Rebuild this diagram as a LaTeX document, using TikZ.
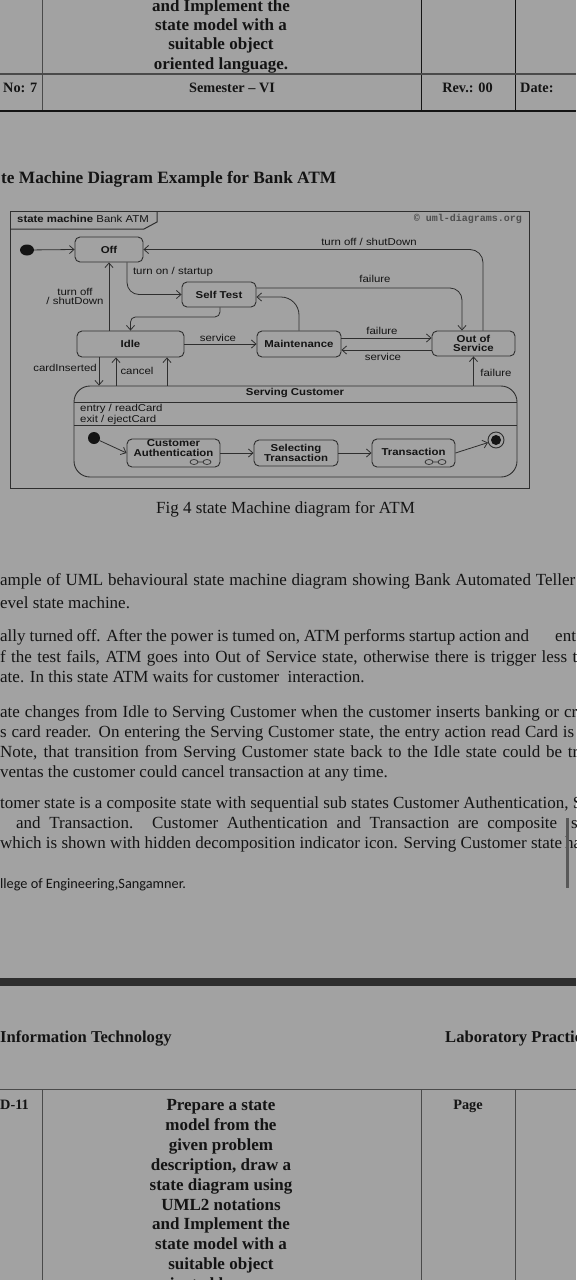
\documentclass[tikz,border=0pt]{standalone}
\usepackage{fontspec}
\setmainfont{Liberation Serif}
\newfontfamily\dgf[FakeStretch=1.14]{Liberation Sans}
\newfontfamily\calf{Carlito}
\newfontfamily\monof{Liberation Mono}
\usetikzlibrary{arrows.meta,calc,shapes.geometric}
\definecolor{bg}{HTML}{A2A2A2}
\definecolor{ink}{HTML}{141414}
\definecolor{dg}{HTML}{2E2E2E}
\definecolor{rulec}{HTML}{4A4A4A}
\begin{document}
\begin{tikzpicture}[x=1pt,y=-1pt,
  body/.style={anchor=base west,inner sep=0,text=ink,font=\fontsize{17}{20}\selectfont},
  hbold/.style={anchor=base,inner sep=0,text=ink,font=\bfseries\fontsize{17}{20}\selectfont},
  hrow/.style={anchor=base,inner sep=0,text=ink,font=\bfseries\fontsize{14.3}{17}\selectfont},
  stbox/.style={draw=dg,line width=0.9pt,rounded corners=5pt,inner sep=0,align=center,text=ink,
     font=\dgf\bfseries\fontsize{10}{9.6}\selectfont},
  lbl/.style={inner sep=0,text=ink,font=\dgf\fontsize{10}{9.6}\selectfont,align=center},
  lblb/.style={inner sep=0,text=ink,font=\dgf\bfseries\fontsize{10}{9.6}\selectfont,align=center},
  tr/.style={draw=dg,line width=0.8pt,-{Straight Barb[length=4.5pt,width=8pt]}},
  tline/.style={draw=rulec,line width=1pt},
  dline/.style={draw=dg,line width=0.8pt},
]
\useasboundingbox (0,0) rectangle (576,1280);
\fill[bg] (0,0) rectangle (576,1280);
\begin{scope}
\clip (0,0) rectangle (576,1280);
% ---------- top table ----------
\draw[tline] (42,0) -- (42,111);
\draw[draw=ink,line width=1pt] (421,0) -- (421,111);
\draw[draw=ink,line width=1pt] (515,0) -- (515,111);
\draw[draw=rulec,line width=1.2pt] (0,74) -- (576,74);
\draw[draw=ink,line width=1.4pt] (0,111) -- (576,111);
\node[hbold] (t1) at (221,11.5) {and Implement the};
\node[hbold] (t2) at (221,30) {state model with a};
\node[hbold] (t3) at (221,49.5) {suitable object};
\node[hbold] (t4) at (221,69) {oriented language.};
\node[hrow,anchor=base west] (no) at (3,92) {No: 7};
\node[hrow] (sem) at (232,92) {Semester -- VI};
\node[hrow] (rev) at (467.5,92) {Rev.: 00};
\node[hrow,anchor=base west] (date) at (520,92) {Date:};
% ---------- heading ----------
\node[anchor=base west,inner sep=0,text=ink,font=\bfseries\fontsize{17.3}{20}\selectfont] (head) at (1,183) {te Machine Diagram Example for Bank ATM};
% ---------- diagram frame ----------
\draw[draw=dg,line width=1pt] (10,211) rectangle (529,488);
\draw[draw=dg,line width=1pt] (10,229) -- (144,229) -- (157,222) -- (157,211);
\node[anchor=base west,inner sep=0,text=ink,font=\dgf\fontsize{10}{12}\selectfont] (smt) at (17,222.5) {\textbf{state machine} Bank ATM};
\node[anchor=base east,inner sep=0,text=dg!85,font=\monof\bfseries\fontsize{10}{12}\selectfont] (copy) at (522,221) {© uml-diagrams.org};
% ---------- states ----------
\node[ellipse,fill=ink,minimum width=14pt,minimum height=11pt,inner sep=0] (i1) at (27,250) {};
\node[stbox,minimum width=68pt,minimum height=25pt] (off) at (109,249.5) {Off};
\node[stbox,minimum width=74pt,minimum height=25pt] (self) at (219,294.5) {Self Test};
\node[stbox,minimum width=107pt,minimum height=26pt] (idle) at (130.5,344) {Idle};
\node[stbox,minimum width=84pt,minimum height=26pt] (maint) at (299,344) {Maintenance};
\node[stbox,minimum width=83pt,minimum height=25pt] (oos) at (473.5,343.5) {Out of\\Service};
\node[draw=dg,line width=0.9pt,rounded corners=16pt,minimum width=443pt,minimum height=91pt,inner sep=0] (sc) at (295.5,431.5) {};
\node[lblb] (sct) at (295,393) {Serving Customer};
\draw[dline] (74,402) -- (517,402);
\draw[dline] (74,425.5) -- (517,425.5);
\node[lbl,anchor=west,align=left,font=\dgf\fontsize{10}{9}\selectfont] (ent) at (80,414.5) {entry / readCard\\exit / ejectCard};
\node[circle,fill=ink,minimum size=12pt,inner sep=0] (i2) at (94,438) {};
\node[stbox,minimum width=93pt,minimum height=28pt] (ca) at (173.5,453) {};
\node[lblb] (catx) at (173.5,448) {Customer\\Authentication};
\node[stbox,minimum width=84pt,minimum height=26pt] (selt) at (296,453) {Selecting\\Transaction};
\node[stbox,minimum width=83pt,minimum height=28pt] (trans) at (413.5,453) {};
\node[lblb] (trtx) at (413.5,452) {Transaction};
\node[circle,draw=dg,line width=0.9pt,minimum size=16pt,inner sep=0] (fin) at (496,440) {};
\fill[ink] (fin.center) circle (5pt);
% decomposition icons
\draw[dline,line width=0.7pt] (194,462) ellipse (4 and 2.5) (207,462) ellipse (4 and 2.5) (198,462) -- (203,462);
\draw[dline,line width=0.7pt] (429,462) ellipse (4 and 2.5) (442,462) ellipse (4 and 2.5) (433,462) -- (438,462);
% ---------- transitions ----------
\draw[tr] (i1) -- (off.west);
\draw[tr,rounded corners=13pt] ($(oos.north)+(9.5,0)$) |- (off.east);
\draw[tr,rounded corners=12pt] ($(off.south)+(18,0)$) |- (self.west);
\draw[tr,rounded corners=12pt] ($(self.east)+(0,-6.5)$) -| ($(oos.north)+(-11.5,0)$);
\draw[tr,rounded corners=5pt] ($(self.south)+(1,0)$) -- ++(0,9.5) -| (idle.north);
\draw[tr,rounded corners=18pt] (maint.north) |- ($(self.east)+(0,2.5)$);
\draw[tr] (off.south |- idle.north) -- (off.south);
\draw[tr] (idle.east) -- (maint.west);
\coordinate (m1) at ($(maint.east)+(0,-6)$);
\draw[tr] (m1) -- (m1 -| oos.west);
\coordinate (o1) at ($(oos.west)+(0,6.5)$);
\draw[tr] (o1) -- (o1 -| maint.east);
\draw[tr] (sc.north -| oos.south) -- (oos.south);
\coordinate (c1) at ($(idle.south)+(-31.5,0)$);
\coordinate (c2) at ($(idle.south)+(-14.5,0)$);
\coordinate (c3) at ($(idle.south)+(36.5,0)$);
\draw[tr] (c1) -- (c1 |- sc.north);
\draw[tr] (c2 |- sc.north) -- (c2);
\draw[tr] (c3 |- sc.north) -- (c3);
\draw[tr] (i2) -- (ca.west);
\draw[tr] (ca.east) -- (selt.west);
\draw[tr] (selt.east) -- (trans.west);
\draw[tr] (trans.east) -- (fin);
% labels
\node[lbl] (l1) at (369,242) {turn off / shutDown};
\node[lbl] (l2) at (173,272) {turn on / startup};
\node[lbl] (l3) at (375,279) {failure};
\node[lbl] (l4) at (75,296.5) {turn off\\/ shutDown};
\node[lbl] (l5) at (218,338) {service};
\node[lbl] (l6) at (382,331) {failure};
\node[lbl] (l7) at (383,357) {service};
\node[lbl] (l8) at (65,368) {cardInserted};
\node[lbl] (l9) at (137,371) {cancel};
\node[lbl] (l10) at (496,373) {failure};
% ---------- caption and text ----------
\node[anchor=base,inner sep=0,text=ink,font=\fontsize{17}{20}\selectfont] (cap) at (285.5,513) {Fig 4 state Machine diagram for ATM};
\node[body] (p1) at (0,585) {\makebox[575pt][s]{ample of UML behavioural state machine diagram showing Bank Automated Teller}};
\node[body] (p2) at (0,608) {evel state machine.};
\node[body] (p3) at (0,641) {\makebox[529pt][s]{ally turned off. After the power is tumed on, ATM performs startup action and}};
\node[body] (p3b) at (555,641) {ent};
\node[body] (p4) at (0,662) {\makebox[577pt][s]{f the test fails, ATM goes into Out of Service state, otherwise there is trigger less t}};
\node[body] (p5) at (0,682) {ate. In this state ATM waits for customer\ \ interaction.};
\node[body] (p6) at (0,717) {\makebox[577pt][s]{ate changes from Idle to Serving Customer when the customer inserts banking or cr}};
\node[body] (p7) at (0,737) {\makebox[574pt][s]{s card reader. On entering the Serving Customer state, the entry action read Card is}};
\node[body] (p8) at (0,757) {\makebox[578pt][s]{Note, that transition from Serving Customer state back to the Idle state could be tr}};
\node[body] (p9) at (0,777) {ventas the customer could cancel transaction at any time.};
\node[body] (p10) at (0,808) {\makebox[582pt][s]{tomer state is a composite state with sequential sub states Customer Authentication, S}};
\node[body] (p11) at (16,828) {\makebox[541pt][s]{and Transaction. Customer Authentication and Transaction are composite}};
\node[body] (p11b) at (571,828) {s};
\node[body] (p12) at (0,848) {\makebox[562pt][s]{which is shown with hidden decomposition indicator icon. Serving Customer state}};
\node[body] (p12b) at (565,848) {ha};
\fill[dg!80] (566,818) rectangle (569,888);
\node[anchor=base west,inner sep=0,text=ink,font=\calf\fontsize{14.3}{16}\selectfont] (coll) at (0,888) {llege of Engineering,Sangamner.};
% ---------- bottom page ----------
\fill[dg] (0,978) rectangle (576,986);
\node[anchor=base west,inner sep=0,text=ink,font=\bfseries\fontsize{16.6}{20}\selectfont] (it) at (0,1042) {Information Technology};
\node[anchor=base west,inner sep=0,text=ink,font=\bfseries\fontsize{16.6}{20}\selectfont] (lp) at (445,1042) {Laboratory Practice};
\draw[tline] (0,1089) -- (576,1089);
\draw[tline] (42,1089) -- (42,1280);
\draw[tline] (421,1089) -- (421,1280);
\draw[tline] (515,1089) -- (515,1280);
\node[hrow,anchor=base west] (d11) at (0,1109) {D-11};
\node[hrow] (pg) at (468,1109) {Page};
\node[hbold] (b1) at (221,1110) {Prepare a state};
\node[hbold] (b2) at (221,1130) {model from the};
\node[hbold] (b3) at (221,1150) {given problem};
\node[hbold] (b4) at (221,1170) {description, draw a};
\node[hbold] (b5) at (221,1190) {state diagram using};
\node[hbold] (b6) at (221,1210) {UML2 notations};
\node[hbold] (b7) at (221,1229) {and Implement the};
\node[hbold] (b8) at (221,1249) {state model with a};
\node[hbold] (b9) at (221,1269) {suitable object};
\node[hbold] (b10) at (221,1289) {oriented language.};
\end{scope}
\end{tikzpicture}
\end{document}
